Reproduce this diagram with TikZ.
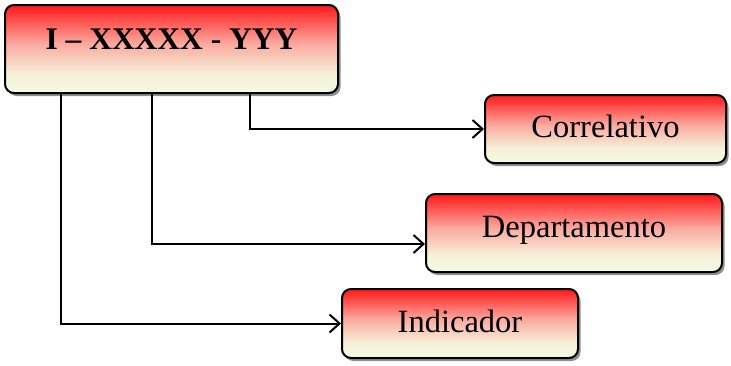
\documentclass[tikz,border=0pt]{standalone}
\usepackage{fontspec}
\setmainfont{Liberation Serif}
\usetikzlibrary{arrows.meta,shadows}
\definecolor{cream}{RGB}{244,250,226}
\definecolor{creamb}{RGB}{246,240,216}
\definecolor{pinklight}{RGB}{250,170,160}
\definecolor{pinkmid}{RGB}{254,90,86}
\definecolor{redtop}{RGB}{255,25,25}
\pgfdeclareverticalshading{redcream}{100bp}{
  color(0bp)=(cream);
  color(25bp)=(cream);
  color(36bp)=(creamb);
  color(53bp)=(pinklight);
  color(65bp)=(pinkmid);
  color(75bp)=(redtop);
  color(100bp)=(redtop)}
\tikzset{
  box/.style={draw=black, line width=2pt, rounded corners=9pt, shading=redcream,
    drop shadow={shadow xshift=2.5pt, shadow yshift=-3pt, fill=black!55, opacity=0.8},
    font=\fontsize{32.5}{34}\selectfont, inner sep=0pt},
  conn/.style={draw=black, line width=2pt, -{Straight Barb[length=10pt,width=18pt,line width=2pt]}}
}
\begin{document}
\begin{tikzpicture}[x=1pt,y=-1pt]
\useasboundingbox (0,0) rectangle (731,365);
\node[box, minimum width=333pt, minimum height=88pt, text height=21pt, text depth=21pt,
  font=\fontsize{31.5}{33}\selectfont\bfseries] (main) at (171.5,49) {I – XXXXX - YYY};
\node[box, minimum width=241pt, minimum height=68pt, text height=22pt, text depth=6pt] (corr) at (605.5,129) {Correlativo};
\node[box, minimum width=296pt, minimum height=78pt, text height=22pt, text depth=14pt] (dep) at (574,233) {Departamento};
\node[box, minimum width=236pt, minimum height=69pt, text height=22pt, text depth=5pt] (ind) at (460,323.5) {Indicador};
\coordinate (m1) at (61,93);
\coordinate (m2) at (152,93);
\coordinate (m3) at (250,93);
\draw[conn] (m3) |- (corr.west);
\draw[conn] (m2) |- ([yshift=-11pt]dep.west);
\draw[conn] (m1) |- (ind.west);
\end{tikzpicture}
\end{document}
